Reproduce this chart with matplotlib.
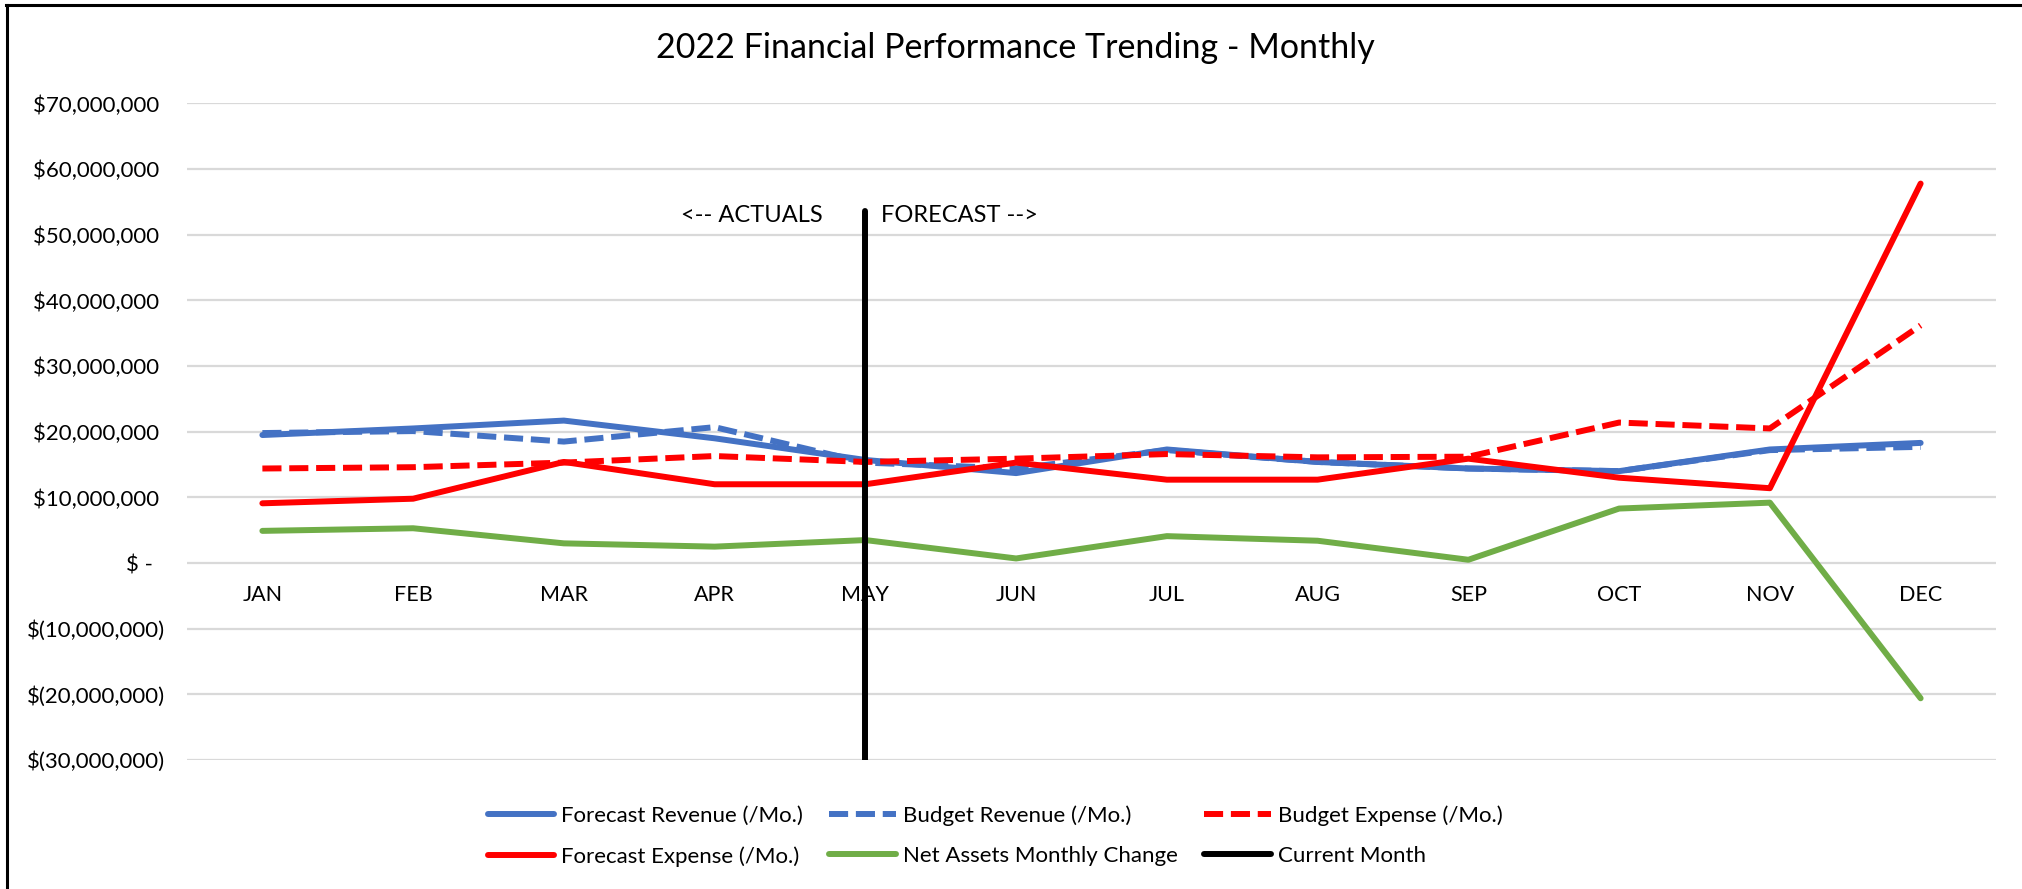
import matplotlib.pyplot as plt
from matplotlib.lines import Line2D

plt.rcParams["font.family"] = ["Lato", "DejaVu Sans"]

months = ["JAN", "FEB", "MAR", "APR", "MAY", "JUN", "JUL", "AUG", "SEP", "OCT", "NOV", "DEC"]

# values in $ millions
forecast_revenue = [19.5, 20.5, 21.7, 19.0, 15.7, 13.7, 17.3, 15.4, 14.4, 14.0, 17.3, 18.3]
budget_revenue = [19.8, 20.1, 18.5, 20.7, 15.3, 14.4, 17.2, 15.4, 14.4, 14.0, 17.2, 17.7]
budget_expense = [14.4, 14.6, 15.3, 16.3, 15.4, 15.9, 16.6, 16.1, 16.2, 21.4, 20.5, 36.2]
forecast_expense = [9.1, 9.8, 15.4, 12.0, 12.0, 15.3, 12.7, 12.7, 15.9, 13.0, 11.4, 57.8]
net_assets_change = [4.9, 5.3, 3.0, 2.5, 3.5, 0.7, 4.1, 3.4, 0.5, 8.3, 9.2, -20.6]

current_month = "MAY"
current_month_y = [-30.0, 53.6]

yticks = [-30, -20, -10, 0, 10, 20, 30, 40, 50, 60, 70]

BLUE = "#4472C4"
RED = "#FF0000"
GREEN = "#70AD47"

M = 1e6
x = list(range(len(months)))
cm_x = months.index(current_month)


def money(v):
    v = int(round(v))
    if v == 0:
        return "$ -  "
    if v < 0:
        return "$({:,})".format(-v)
    return "${:,} ".format(v)


fig = plt.figure(figsize=(20.22, 8.89), dpi=100)
ax = fig.add_axes([187 / 2022, 0.1451, (1996 - 187) / 2022, 0.8836 - 0.1451])

lw = 4.3
common = dict(linewidth=lw, solid_joinstyle="round", dash_joinstyle="round")
h_fr, = ax.plot(x, [v * M for v in forecast_revenue], color=BLUE, solid_capstyle="round",
                label="Forecast Revenue (/Mo.)", **common)
h_br, = ax.plot(x, [v * M for v in budget_revenue], color=BLUE, linestyle=(0, (3.2, 1.3)),
                label="Budget Revenue (/Mo.)", **common)
h_be, = ax.plot(x, [v * M for v in budget_expense], color=RED, linestyle=(0, (3.2, 1.3)),
                label="Budget Expense (/Mo.)", **common)
h_fe, = ax.plot(x, [v * M for v in forecast_expense], color=RED, solid_capstyle="round",
                label="Forecast Expense (/Mo.)", **common)
h_na, = ax.plot(x, [v * M for v in net_assets_change], color=GREEN, solid_capstyle="round",
                label="Net Assets Monthly Change", **common)
h_cm, = ax.plot([cm_x, cm_x], [v * M for v in current_month_y], color="black",
                solid_capstyle="round", label="Current Month", **common)

ax.annotate("<-- ACTUALS", xy=(cm_x, 53.0 * M), xytext=(-31, 0), textcoords="offset points",
            ha="right", va="center", fontsize=17)
ax.annotate("FORECAST -->", xy=(cm_x, 53.0 * M), xytext=(11, 0), textcoords="offset points",
            ha="left", va="center", fontsize=17)

# month labels sit just under the zero line, like Excel's category axis
for s in ["top", "right", "left"]:
    ax.spines[s].set_visible(False)
ax.spines["bottom"].set_position(("data", 0))
ax.spines["bottom"].set_visible(False)

ax.set_xlim(-0.5, len(months) - 0.5)
ax.set_ylim(yticks[0] * M, yticks[-1] * M)
ax.set_yticks([t * M for t in yticks])
ax.set_yticklabels([money(t * M) for t in yticks])
ax.set_xticks(x)
ax.set_xticklabels(months)
ax.grid(axis="y", color="#d9d9d9", linewidth=1.6)
ax.set_axisbelow(True)
ax.tick_params(axis="y", length=0, pad=16, labelsize=16)
ax.tick_params(axis="x", length=0, pad=16, labelsize=15.5)

fig.text(0.502, 1 - 48 / 889, "2022 Financial Performance Trending - Monthly",
         ha="center", va="center", fontsize=24.5)

# legend fills column-wise, so order the handles to read row by row
handles = [h_fr, h_fe, h_br, h_na, h_be, h_cm]
fig.legend(handles=handles, labels=[h.get_label() for h in handles], ncol=3,
           loc="center", bbox_to_anchor=(995 / 2022, 1 - 836 / 889), frameon=False,
           fontsize=16, handlelength=3.0, handletextpad=0.3, columnspacing=1.2,
           labelspacing=0.9)

# chart border (top and left edges visible in the original)
fig.add_artist(Line2D([6 / 2022, 1], [1 - 5 / 889, 1 - 5 / 889], color="black", linewidth=2.2))
fig.add_artist(Line2D([7 / 2022, 7 / 2022], [0, 1 - 5 / 889], color="black", linewidth=2.2))

fig.savefig("out.png", dpi=100, facecolor="white")
